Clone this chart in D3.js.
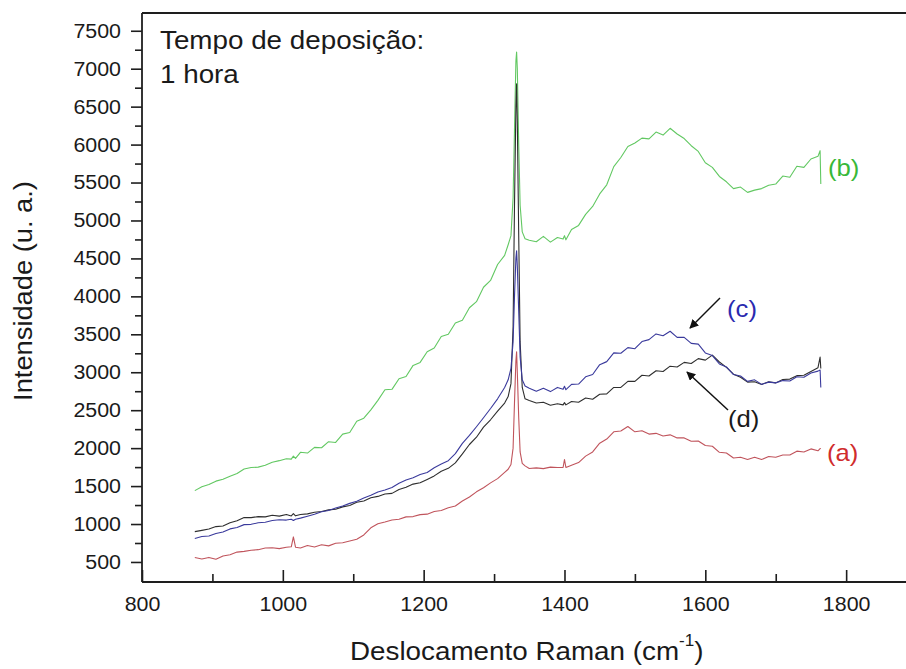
<!DOCTYPE html>
<html>
<head>
<meta charset="utf-8">
<script src="https://cdn.jsdelivr.net/npm/d3@7/dist/d3.min.js"></script>
<style>
  html, body { margin: 0; padding: 0; background: #fff; }
  svg { display: block; }
  text { font-family: "Liberation Sans", Arial, Helvetica, sans-serif; fill: #1a1a1a; }
</style>
</head>
<body>
<svg id="chart" width="906" height="669"></svg>
<script>
// Raman shift grid (cm^-1), shared by all four spectra
const wavenumbers = [
  875, 885, 895, 905, 915, 925, 935, 945, 955, 965,
  975, 985, 995, 1005, 1012, 1015, 1018, 1025, 1035, 1045,
  1055, 1065, 1075, 1085, 1095, 1105, 1115, 1125, 1135, 1145,
  1155, 1165, 1175, 1185, 1195, 1205, 1215, 1225, 1235, 1245,
  1255, 1265, 1275, 1285, 1295, 1305, 1315, 1320, 1324, 1327,
  1329, 1331, 1332, 1333, 1335, 1337, 1340, 1344, 1350, 1360,
  1370, 1380, 1390, 1398, 1400, 1402, 1410, 1420, 1430, 1440,
  1450, 1460, 1470, 1480, 1490, 1500, 1510, 1520, 1530, 1540,
  1550, 1560, 1570, 1580, 1590, 1600, 1610, 1620, 1630, 1640,
  1650, 1660, 1670, 1680, 1690, 1700, 1710, 1720, 1730, 1740,
  1750, 1760, 1763, 1764
];

// (a) red spectrum
const intensityA = [
  560, 540, 560, 535, 578, 596, 630, 640, 655, 662,
  685, 688, 676, 694, 700, 830, 695, 684, 716, 698,
  726, 712, 746, 754, 776, 800, 856, 950, 1004, 1026,
  1054, 1062, 1094, 1098, 1124, 1130, 1164, 1178, 1214, 1238,
  1304, 1356, 1424, 1478, 1542, 1598, 1680, 1722, 1785, 2000,
  2600, 3150, 3270, 3000, 2400, 1950, 1800, 1766, 1732, 1740,
  1730, 1750, 1745, 1745, 1850, 1745, 1775, 1810, 1895, 1950,
  2065, 2120, 2215, 2225, 2285, 2215, 2230, 2185, 2195, 2160,
  2175, 2135, 2135, 2090, 2095, 2035, 2025, 1945, 1935, 1870,
  1880, 1850, 1880, 1850, 1890, 1880, 1910, 1910, 1960, 1950,
  1990, 1965, 1995, 1995
];

// (b) green spectrum
const intensityB = [
  1440, 1490, 1520, 1565, 1590, 1630, 1665, 1725, 1745, 1750,
  1775, 1815, 1835, 1860, 1855, 1895, 1865, 1945, 1935, 2010,
  2005, 2085, 2075, 2185, 2205, 2355, 2395, 2505, 2630, 2770,
  2775, 2915, 2945, 3090, 3130, 3270, 3320, 3470, 3500, 3650,
  3685, 3850, 3930, 4120, 4210, 4420, 4540, 4680, 4800, 5300,
  6200, 7100, 7220, 7000, 6000, 5200, 4850, 4760, 4740, 4720,
  4790, 4715, 4775, 4755, 4800, 4745, 4880, 4935, 5080, 5185,
  5350, 5470, 5710, 5830, 5975, 6020, 6085, 6075, 6165, 6125,
  6215, 6140, 6080, 5985, 5910, 5760, 5700, 5580, 5510, 5420,
  5440, 5370, 5400, 5420, 5465, 5480, 5585, 5570, 5715, 5700,
  5810, 5845, 5920, 5480
];

// (c) blue spectrum
const intensityC = [
  810, 836, 842, 876, 894, 936, 954, 992, 996, 1016,
  1024, 1046, 1056, 1052, 1062, 1046, 1064, 1078, 1102, 1128,
  1162, 1178, 1212, 1238, 1272, 1300, 1342, 1378, 1422, 1448,
  1482, 1538, 1580, 1610, 1652, 1680, 1742, 1790, 1834, 1928,
  2062, 2168, 2282, 2400, 2522, 2650, 2798, 2900, 3050, 3400,
  4000, 4500, 4600, 4400, 3800, 3200, 2900, 2820, 2790, 2750,
  2790, 2745, 2800, 2775, 2815, 2770, 2840, 2845, 2940, 2970,
  3100, 3140, 3255, 3250, 3325, 3310, 3405, 3430, 3505, 3480,
  3540, 3460, 3460, 3380, 3370, 3255, 3220, 3110, 3070, 2970,
  2950, 2880, 2900, 2840, 2870, 2860, 2890, 2885, 2940, 2935,
  2990, 3015, 3030, 2800
];

// (d) black spectrum
const intensityD = [
  900, 916, 934, 966, 974, 1016, 1044, 1086, 1084, 1098,
  1094, 1116, 1104, 1126, 1106, 1136, 1108, 1126, 1134, 1156,
  1164, 1186, 1194, 1226, 1244, 1286, 1304, 1346, 1364, 1396,
  1404, 1456, 1484, 1526, 1544, 1588, 1634, 1696, 1734, 1806,
  1924, 2048, 2144, 2276, 2374, 2488, 2594, 2680, 2850, 3600,
  5200, 6500, 6800, 6300, 4800, 3400, 2800, 2650, 2628, 2594,
  2605, 2565, 2585, 2570, 2600, 2570, 2615, 2605, 2660, 2645,
  2710, 2715, 2800, 2800, 2880, 2880, 2960, 2950, 3020, 3010,
  3080, 3070, 3130, 3115, 3180, 3160, 3225, 3135, 3065, 2975,
  2935, 2870, 2875, 2840, 2875, 2860, 2905, 2910, 2955, 2960,
  3010, 3060, 3200, 3050
];

const xTickValues = [800, 1000, 1200, 1400, 1600, 1800];
const xMinorTickValues = [900, 1100, 1300, 1500, 1700];
const yTickValues = [500, 1000, 1500, 2000, 2500, 3000, 3500, 4000, 4500, 5000, 5500, 6000, 6500, 7000, 7500];
const yMinorTickValues = [750, 1250, 1750, 2250, 2750, 3250, 3750, 4250, 4750, 5250, 5750, 6250, 6750, 7250];

const titleLines = ["Tempo de deposição:", "1 hora"];
const xTitle = "Deslocamento Raman (cm";
const xTitleSup = "-1";
const yTitle = "Intensidade (u. a.)";

const series = [
  { key: "(b)", values: intensityB, color: "#62c862", labelColor: "#38b838" },
  { key: "(a)", values: intensityA, color: "#c0545c", labelColor: "#d02c2c" },
  { key: "(d)", values: intensityD, color: "#2e2e2e", labelColor: "#1a1a1a" },
  { key: "(c)", values: intensityC, color: "#3a3a9c", labelColor: "#2a2ab0" }
];

const svg = d3.select("#chart");
const plot = { left: 142, right: 906, top: 13, bottom: 582 };
const STRETCH = 1.07; // glyphs in this figure are set slightly wide

const x = d3.scaleLinear().domain([800, 1885]).range([plot.left, plot.right]);
const y = d3.scaleLinear().domain([236, 7734]).range([plot.bottom, plot.top]);

// spectra
const line = d3.line()
  .x(d => x(d[0]))
  .y(d => y(d[1]));

const gLines = svg.append("g").attr("class", "spectra");
series.forEach(s => {
  const pts = wavenumbers.map((w, i) => [w, s.values[i]]);
  gLines.append("path")
    .datum(pts)
    .attr("fill", "none")
    .attr("stroke", s.color)
    .attr("stroke-width", 1.1)
    .attr("stroke-linejoin", "round")
    .attr("d", line);
});

// axes
const axisColor = "#1e1e1e";
function styleAxis(g) {
  g.select(".domain").remove();
  g.selectAll(".tick line").attr("stroke", axisColor).attr("stroke-width", 1.6);
  g.selectAll(".tick text")
    .attr("fill", "#1a1a1a")
    .style("font-size", "20px")
    .style("font-family", '"Liberation Sans", Arial, sans-serif');
}

const yAxis = svg.append("g")
  .attr("transform", `translate(${plot.left},0)`)
  .call(d3.axisLeft(y).tickValues(yTickValues).tickSize(11).tickPadding(10).tickFormat(d3.format("d")))
  .call(styleAxis);
yAxis.selectAll(".tick text").each(function () {
  const t = d3.select(this);
  t.attr("transform", `translate(${+t.attr("x")},0) scale(${STRETCH},1)`).attr("x", 0);
});

svg.append("g")
  .attr("transform", `translate(${plot.left},0)`)
  .call(d3.axisLeft(y).tickValues(yMinorTickValues).tickSize(7).tickFormat(""))
  .call(styleAxis);

const xAxis = svg.append("g")
  .attr("transform", `translate(0,${plot.bottom})`)
  .call(d3.axisBottom(x).tickValues(xTickValues).tickSizeInner(-12).tickSizeOuter(0).tickPadding(15).tickFormat(d3.format("d")))
  .call(styleAxis);
xAxis.selectAll(".tick text").attr("transform", `scale(${STRETCH},1)`);

svg.append("g")
  .attr("transform", `translate(0,${plot.bottom})`)
  .call(d3.axisBottom(x).tickValues(xMinorTickValues).tickSizeInner(-8).tickSizeOuter(0).tickFormat(""))
  .call(styleAxis);

// frame: left, bottom and top lines
const frame = svg.append("g").attr("stroke", axisColor).attr("stroke-width", 1.8).attr("fill", "none");
frame.append("line").attr("x1", plot.left).attr("x2", plot.left).attr("y1", plot.top).attr("y2", plot.bottom);
frame.append("line").attr("x1", plot.left).attr("x2", plot.right).attr("y1", plot.bottom).attr("y2", plot.bottom);
frame.append("line").attr("x1", plot.left).attr("x2", plot.right).attr("y1", plot.top).attr("y2", plot.top);

// deposition time note
titleLines.forEach((t, i) => {
  svg.append("text")
    .attr("transform", `translate(160,${49 + i * 34}) scale(${STRETCH},1)`)
    .style("font-size", "26px")
    .text(t);
});

// axis titles
const xt = svg.append("text")
  .attr("transform", `translate(350,660) scale(${STRETCH},1)`)
  .style("font-size", "26px");
xt.append("tspan").text(xTitle);
xt.append("tspan").attr("dy", -14).style("font-size", "16px").text(xTitleSup);
xt.append("tspan").attr("dy", 14).text(")");

svg.append("text")
  .attr("transform", `translate(32,291) rotate(-90) scale(${STRETCH},1)`)
  .attr("text-anchor", "middle")
  .style("font-size", "25.5px")
  .text(yTitle);

// series labels
const labelPos = {
  "(b)": [828, 176],
  "(c)": [727, 317],
  "(d)": [728, 427],
  "(a)": [827, 461]
};
series.forEach(s => {
  const p = labelPos[s.key];
  svg.append("text")
    .attr("transform", `translate(${p[0]},${p[1]}) scale(${STRETCH},1)`)
    .style("font-size", "24px")
    .style("fill", s.labelColor)
    .text(s.key);
});

// arrows pointing labels (c) and (d) to their curves
svg.append("defs").append("marker")
  .attr("id", "head")
  .attr("viewBox", "0 0 10 10")
  .attr("refX", 9).attr("refY", 5)
  .attr("markerWidth", 9).attr("markerHeight", 9)
  .attr("markerUnits", "userSpaceOnUse")
  .attr("orient", "auto")
  .append("path").attr("d", "M0,0 L10,5 L0,10 Z").attr("fill", "#111");

const arrows = [
  [[720, 298], [690, 328]],
  [[728, 410], [687, 372]]
];
arrows.forEach(a => {
  svg.append("line")
    .attr("x1", a[0][0]).attr("y1", a[0][1])
    .attr("x2", a[1][0]).attr("y2", a[1][1])
    .attr("stroke", "#111").attr("stroke-width", 1.5)
    .attr("marker-end", "url(#head)");
});
</script>
</body>
</html>
